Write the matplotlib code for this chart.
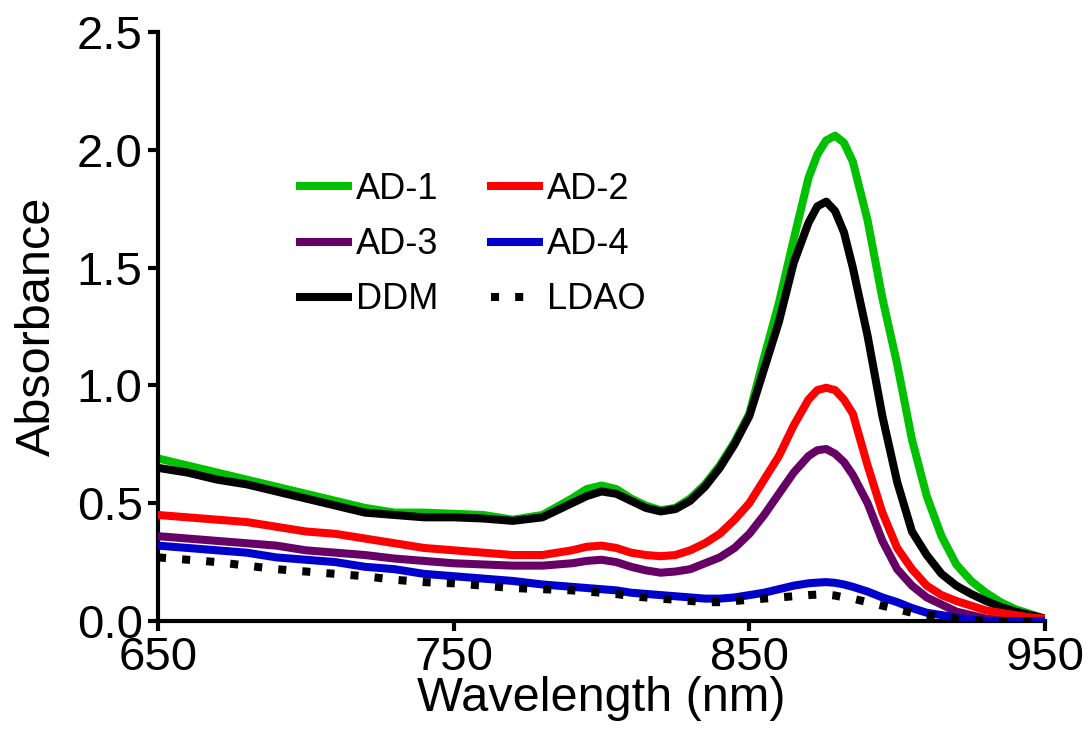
import matplotlib
matplotlib.use("Agg")
import matplotlib.pyplot as plt

plt.rcParams['font.family'] = ['Liberation Sans', 'DejaVu Sans']

wavelength = [650, 660, 670, 680, 690, 700, 710, 720, 730, 740, 750, 760, 770, 780, 790, 795,
              800, 805, 810, 815, 820, 825, 830, 835, 840, 845, 850, 855, 860, 865, 870, 873,
              876, 879, 882, 885, 890, 895, 900, 905, 910, 915, 920, 925, 930, 935, 940, 945, 950]

ad1 = [0.69, 0.66, 0.63, 0.60, 0.57, 0.54, 0.51, 0.48, 0.46, 0.46, 0.455, 0.45, 0.43, 0.45, 0.52, 0.56,
       0.575, 0.56, 0.52, 0.49, 0.47, 0.48, 0.52, 0.58, 0.66, 0.76, 0.88, 1.12, 1.35, 1.62, 1.88, 1.98,
       2.04, 2.06, 2.03, 1.95, 1.70, 1.37, 1.09, 0.77, 0.53, 0.36, 0.24, 0.17, 0.12, 0.08, 0.05, 0.03, 0.01]

ddm = [0.65, 0.63, 0.60, 0.58, 0.55, 0.52, 0.49, 0.46, 0.45, 0.44, 0.44, 0.435, 0.425, 0.44, 0.50, 0.53,
       0.55, 0.54, 0.51, 0.48, 0.465, 0.475, 0.51, 0.57, 0.65, 0.75, 0.87, 1.07, 1.27, 1.52, 1.69, 1.76,
       1.78, 1.74, 1.65, 1.50, 1.21, 0.87, 0.59, 0.38, 0.28, 0.20, 0.15, 0.115, 0.085, 0.06, 0.04, 0.025, 0.01]

ad2 = [0.45, 0.44, 0.43, 0.42, 0.40, 0.38, 0.37, 0.35, 0.33, 0.31, 0.30, 0.29, 0.28, 0.28, 0.30, 0.315,
       0.32, 0.31, 0.29, 0.28, 0.275, 0.28, 0.30, 0.33, 0.37, 0.43, 0.50, 0.60, 0.70, 0.83, 0.94, 0.98,
       0.99, 0.98, 0.94, 0.88, 0.66, 0.46, 0.31, 0.22, 0.15, 0.11, 0.085, 0.065, 0.045, 0.035, 0.025, 0.015, 0.01]

ad3 = [0.36, 0.35, 0.34, 0.33, 0.32, 0.30, 0.29, 0.28, 0.265, 0.255, 0.245, 0.24, 0.235, 0.235, 0.245, 0.255,
       0.26, 0.25, 0.23, 0.215, 0.205, 0.21, 0.22, 0.245, 0.27, 0.31, 0.37, 0.45, 0.54, 0.63, 0.70, 0.725,
       0.73, 0.71, 0.675, 0.62, 0.50, 0.34, 0.22, 0.15, 0.10, 0.07, 0.04, 0.025, 0.01, 0.005, 0.0, 0.0, 0.0]

ad4 = [0.32, 0.31, 0.30, 0.29, 0.27, 0.26, 0.25, 0.23, 0.22, 0.20, 0.19, 0.18, 0.17, 0.155, 0.145, 0.14,
       0.135, 0.13, 0.12, 0.115, 0.11, 0.105, 0.10, 0.095, 0.095, 0.10, 0.11, 0.12, 0.135, 0.15, 0.16, 0.163,
       0.165, 0.162, 0.155, 0.145, 0.125, 0.10, 0.08, 0.055, 0.035, 0.025, 0.015, 0.005, 0.0, 0.0, 0.0, 0.0, 0.0]

ldao = [0.27, 0.26, 0.25, 0.235, 0.22, 0.21, 0.20, 0.19, 0.175, 0.165, 0.16, 0.15, 0.14, 0.135, 0.13, 0.125,
        0.12, 0.115, 0.105, 0.10, 0.095, 0.09, 0.085, 0.08, 0.08, 0.085, 0.09, 0.095, 0.10, 0.105, 0.11, 0.112,
        0.112, 0.108, 0.10, 0.095, 0.08, 0.065, 0.05, 0.035, 0.025, 0.018, 0.01, 0.005, 0.0, 0.0, 0.0, 0.0, 0.0]

x_ticks = [650, 750, 850, 950]
y_ticks = [0.0, 0.5, 1.0, 1.5, 2.0, 2.5]

fig = plt.figure(figsize=(10.91, 7.49), dpi=100)
ax = fig.add_axes([158/1091, (749-621)/749, (1045-158)/1091, (621-32)/749])

lw = 5.8
h1, = ax.plot(wavelength, ad1, color='#00c000', lw=lw, label='AD-1', zorder=2)
h5, = ax.plot(wavelength, ddm, color='black', lw=lw, label='DDM', zorder=3)
h3, = ax.plot(wavelength, ad3, color='#660066', lw=lw, label='AD-3', zorder=4)
h2, = ax.plot(wavelength, ad2, color='#ff0000', lw=lw, label='AD-2', zorder=5)
h4, = ax.plot(wavelength, ad4, color='#0000cc', lw=lw, label='AD-4', zorder=6)
h6, = ax.plot(wavelength, ldao, color='black', lw=lw, label='LDAO', zorder=7,
              dashes=(1.0, 2.0), dash_capstyle='butt')

ax.set_xlim(650, 950)
ax.set_ylim(0, 2.5)
ax.set_xticks(x_ticks)
ax.set_yticks(y_ticks)
ax.set_yticklabels([f"{v:.1f}" for v in y_ticks])

for s in ['top', 'right']:
    ax.spines[s].set_visible(False)
for s in ['left', 'bottom']:
    ax.spines[s].set_linewidth(3)
ax.tick_params(axis='both', direction='out', length=7, width=3, labelsize=34, pad=4)

ax.set_xlabel('Wavelength (nm)', fontsize=35, labelpad=-3)
ax.set_ylabel('Absorbance', fontsize=35, labelpad=12)

leg = ax.legend([h1, h3, h5, h2, h4, h6], ['AD-1', 'AD-3', 'DDM', 'AD-2', 'AD-4', 'LDAO'],
                ncol=2, frameon=False, fontsize=26, handlelength=1.33, handletextpad=0.22,
                columnspacing=1.45, labelspacing=0.56, borderpad=0, borderaxespad=0,
                loc='upper left', bbox_to_anchor=(300/1091, (749-172)/749),
                bbox_transform=fig.transFigure)

fig.savefig('out.png', dpi=100)
